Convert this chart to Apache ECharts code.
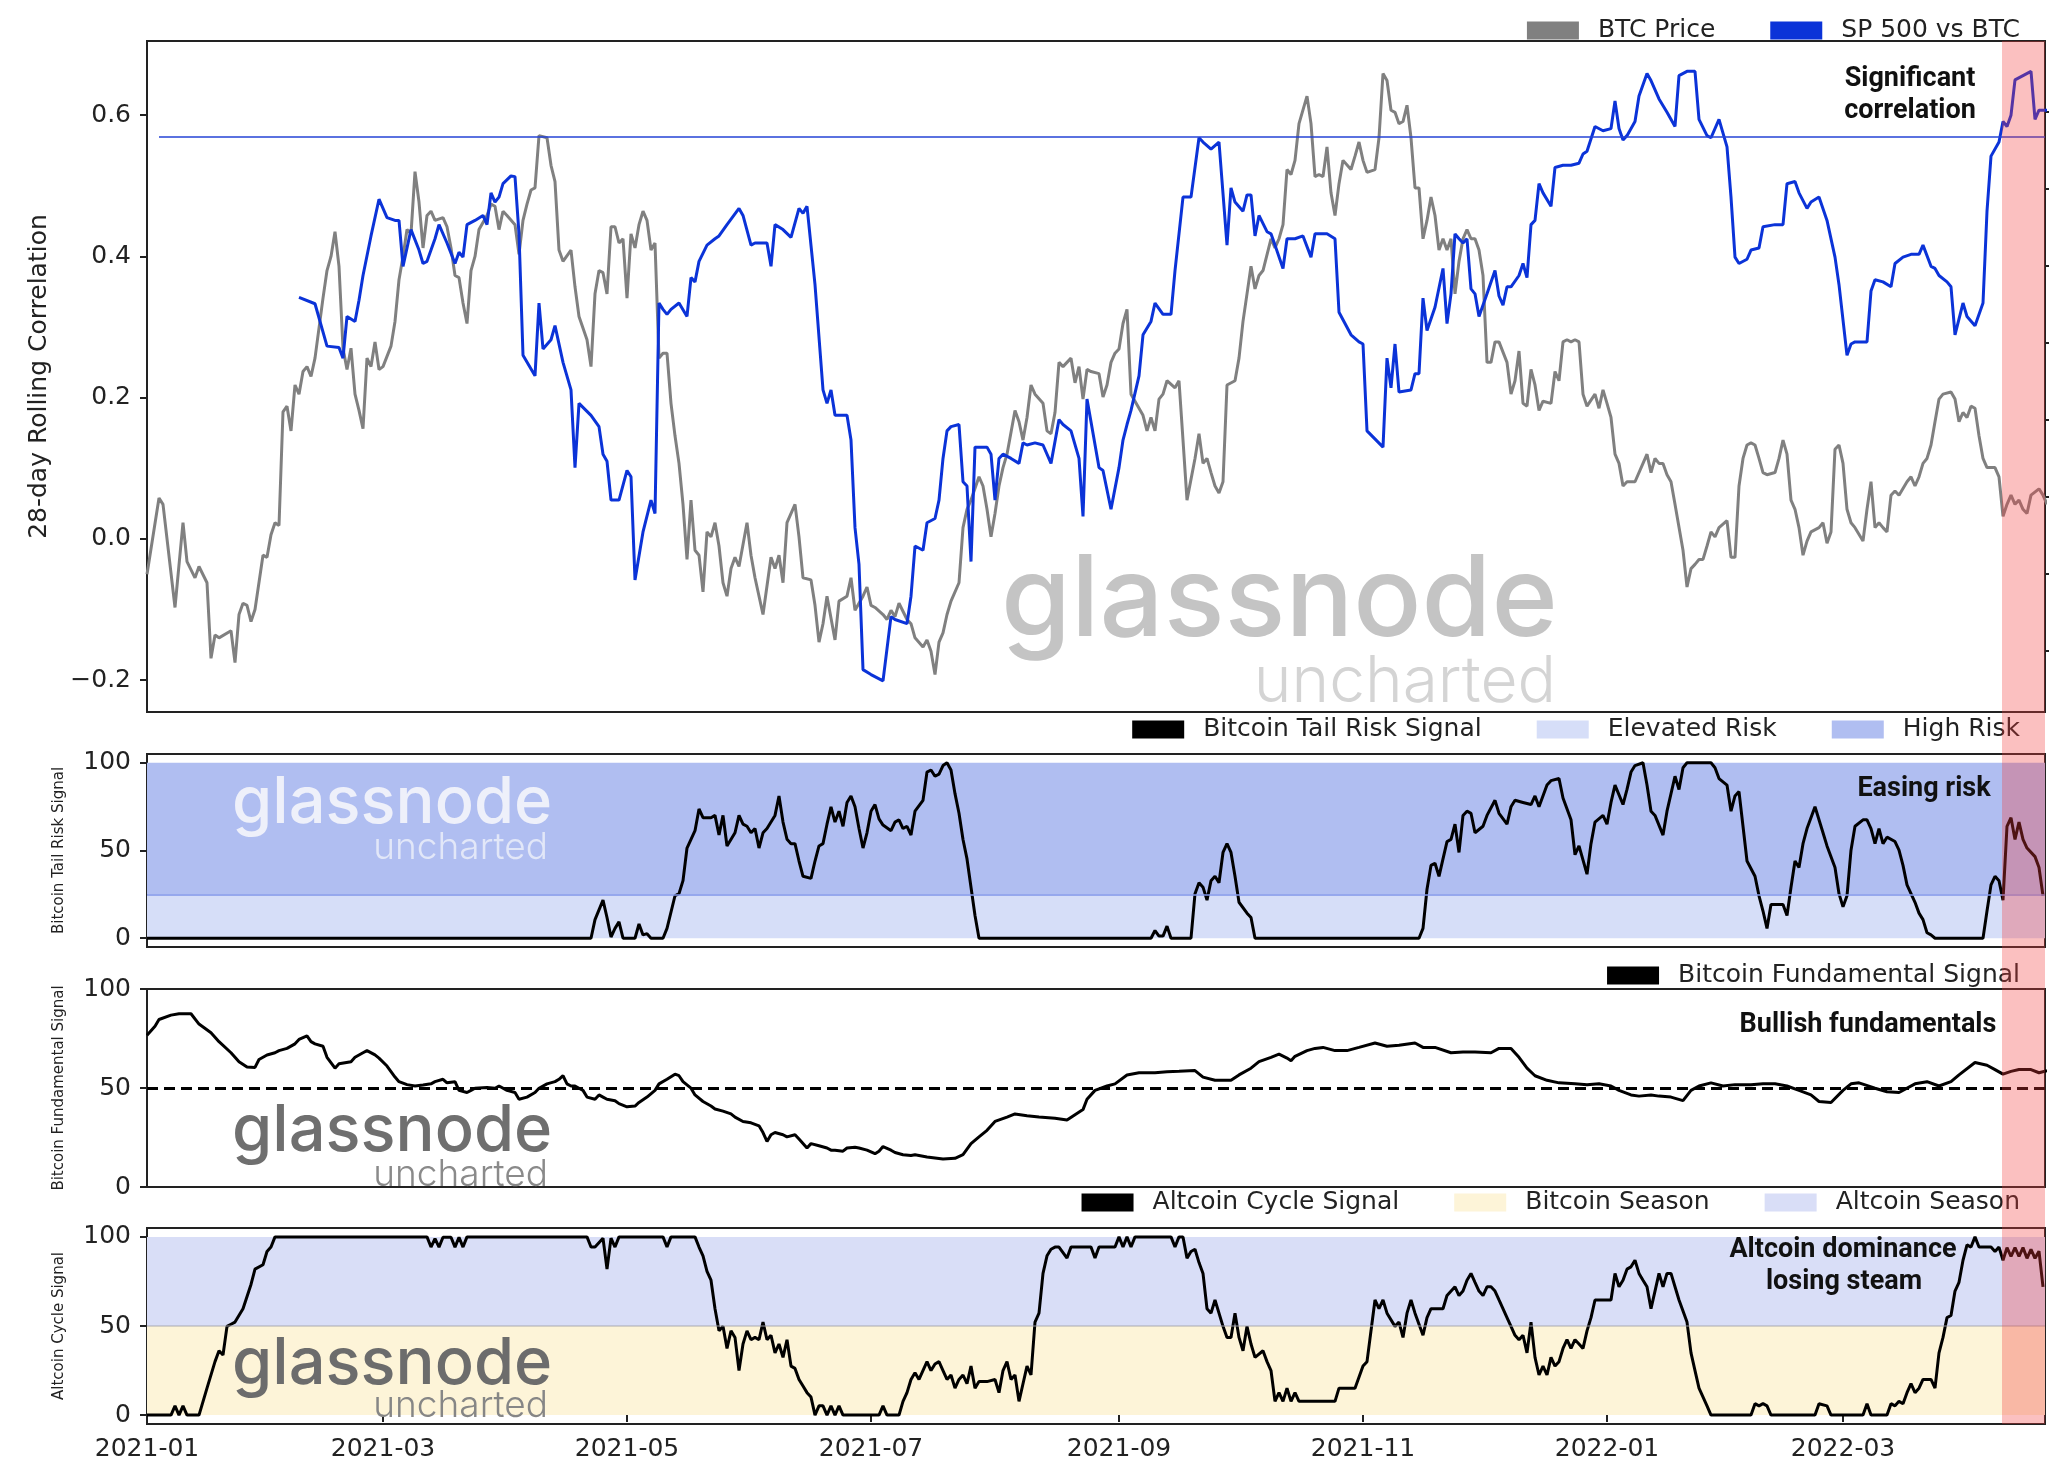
<!DOCTYPE html>
<html>
<head>
<meta charset="utf-8">
<title>Bitcoin signals</title>
<script src="https://cdn.jsdelivr.net/npm/echarts@6.0.0/dist/echarts.min.js"></script>
<style>
  html, body { margin: 0; padding: 0; background: #fff; }
  #chart { width: 2049px; height: 1468px; }
</style>
</head>
<body>
<div id="chart"></div>
<script>
// every series is [day, value], day = days since 2021-01-01
const START = Date.UTC(2021, 0, 1);
const DAY = 86400000;
const LAST_DAY = 474.5;
const PINK_FROM_DAY = 463.75;

const monthTicks = ['2021-01', '2021-03', '2021-05', '2021-07', '2021-09', '2021-11', '2022-01', '2022-03'];
const corrTicks = [-0.2, 0, 0.2, 0.4, 0.6];
const signalTicks = [0, 50, 100];
const priceTicks = [0, 1, 2, 3, 4, 5, 6, 7];
const corrThreshold = 0.57;
const riskLevels = [0, 25, 100];
const seasonLevels = [0, 50, 100];
const neutralFundamental = 50;

const btcPriceCorr = [[0,-.05],[3,.058],[4,.049],[7,-.097],[9,.023],[10,-.032],[12,-.055],[13,-.039],[15,-.062],[16,-.169],[17,-.136],[18,-.14],[21,-.13],[22,-.175],[23,-.107],[24,-.091],[25,-.094],[26,-.117],[27,-.1],[29,-.023],[30,-.026],[31,.006],[32,.023],[33,.019],[34,.18],[35,.188],[36,.153],[37,.218],[38,.205],[39,.237],[40,.244],[41,.23],[42,.256],[44,.341],[45,.38],[46,.4],[47,.435],[48,.386],[49,.27],[50,.24],[51,.27],[52,.205],[53,.182],[54,.156],[55,.256],[56,.244],[57,.279],[58,.24],[59,.244],[61,.273],[62,.308],[63,.367],[64,.4],[65,.438],[66,.432],[67,.52],[68,.477],[69,.412],[70,.458],[71,.464],[72,.451],[74,.455],[75,.442],[76,.412],[77,.373],[78,.37],[79,.334],[80,.305],[81,.38],[82,.4],[83,.438],[85,.458],[86,.474],[87,.471],[88,.438],[89,.464],[90,.458],[92,.445],[93,.403],[94,.451],[95,.474],[96,.494],[97,.497],[98,.571],[100,.568],[101,.529],[102,.506],[103,.409],[104,.393],[106,.409],[107,.357],[108,.315],[110,.282],[111,.244],[112,.347],[113,.38],[114,.377],[115,.347],[116,.442],[117,.442],[118,.419],[119,.425],[120,.341],[121,.432],[122,.412],[123,.445],[124,.464],[125,.451],[126,.409],[127,.419],[128,.256],[129,.263],[130,.263],[131,.192],[132,.146],[133,.107],[134,.049],[135,-.029],[136,.055],[137,-.016],[138,-.023],[139,-.075],[140,.01],[141,.003],[142,.023],[143,-.01],[144,-.062],[145,-.081],[146,-.042],[147,-.026],[148,-.039],[150,.023],[151,-.023],[152,-.055],[154,-.107],[156,-.026],[157,-.042],[158,-.023],[159,-.062],[160,.023],[162,.049],[163,.003],[164,-.055],[166,-.058],[167,-.094],[168,-.146],[169,-.12],[170,-.081],[172,-.143],[173,-.088],[175,-.081],[176,-.055],[177,-.101],[179,-.081],[180,-.068],[181,-.094],[182,-.097],[184,-.107],[185,-.114],[186,-.101],[187,-.11],[188,-.091],[190,-.114],[191,-.12],[192,-.14],[194,-.153],[195,-.143],[196,-.159],[197,-.192],[198,-.146],[199,-.133],[200,-.107],[201,-.088],[203,-.062],[204,.016],[205,.042],[206,.055],[208,.088],[209,.075],[210,.042],[211,.003],[212,.036],[213,.075],[214,.101],[215,.12],[217,.182],[218,.166],[219,.14],[220,.172],[221,.218],[222,.205],[224,.192],[225,.153],[226,.149],[227,.179],[228,.25],[229,.244],[230,.25],[231,.256],[232,.221],[233,.244],[234,.198],[235,.24],[236,.237],[238,.234],[239,.201],[240,.218],[241,.25],[242,.263],[243,.269],[244,.305],[245,.325],[246,.205],[248,.185],[249,.175],[250,.153],[251,.172],[252,.153],[253,.198],[254,.205],[255,.224],[257,.214],[258,.224],[259,.14],[260,.055],[262,.114],[263,.149],[264,.107],[265,.114],[266,.094],[267,.075],[268,.065],[269,.081],[270,.218],[272,.224],[273,.256],[274,.308],[275,.347],[276,.386],[277,.354],[278,.373],[279,.38],[281,.425],[282,.412],[283,.425],[284,.445],[285,.523],[286,.516],[287,.536],[288,.588],[290,.627],[291,.588],[292,.513],[293,.516],[294,.513],[295,.555],[296,.49],[297,.458],[298,.503],[299,.536],[301,.523],[302,.542],[303,.562],[304,.536],[305,.519],[307,.523],[308,.568],[309,.659],[310,.649],[311,.607],[312,.604],[313,.588],[314,.591],[315,.614],[316,.568],[317,.497],[318,.497],[319,.425],[320,.451],[321,.484],[322,.458],[323,.409],[324,.425],[325,.409],[326,.425],[327,.347],[328,.393],[329,.425],[330,.438],[331,.425],[332,.425],[333,.409],[334,.373],[335,.25],[336,.25],[337,.279],[338,.279],[340,.25],[341,.205],[342,.224],[343,.266],[344,.192],[345,.188],[346,.24],[347,.218],[348,.182],[349,.195],[351,.192],[352,.237],[353,.224],[354,.279],[355,.282],[356,.279],[357,.282],[358,.279],[359,.205],[360,.188],[362,.205],[363,.185],[364,.211],[365,.192],[366,.172],[367,.12],[368,.107],[369,.075],[370,.081],[372,.081],[374,.107],[375,.12],[376,.094],[377,.114],[378,.107],[379,.107],[380,.091],[381,.081],[382,.049],[384,-.016],[385,-.068],[386,-.042],[387,-.036],[388,-.029],[389,-.029],[390,-.01],[391,.01],[392,.003],[393,.016],[395,.026],[396,-.026],[397,-.026],[398,.075],[399,.114],[400,.133],[401,.136],[402,.133],[403,.114],[404,.094],[405,.091],[407,.094],[408,.114],[409,.14],[410,.12],[411,.055],[412,.042],[413,.016],[414,-.023],[415,-.003],[416,.01],[418,.016],[419,.023],[420,-.006],[421,.01],[422,.127],[423,.133],[424,.107],[425,.042],[426,.023],[427,.016],[429,-.003],[430,.042],[431,.081],[432,.016],[433,.023],[434,.016],[435,.01],[436,.062],[437,.068],[438,.062],[440,.081],[441,.088],[442,.075],[443,.088],[444,.107],[445,.114],[446,.133],[447,.166],[448,.198],[449,.205],[451,.208],[452,.198],[453,.166],[454,.179],[455,.172],[456,.188],[457,.185],[458,.146],[459,.114],[460,.101],[462,.101],[463,.088],[464,.032],[465,.049],[466,.062],[467,.049],[468,.055],[469,.042],[470,.036],[471,.062],[473,.071],[474,.062],[475,.049]];

const spxBtcCorr = [[38,.342],[42,.333],[45,.273],[48,.271],[49,.256],[50,.315],[52,.308],[53,.338],[54,.373],[56,.429],[58,.481],[60,.455],[62,.451],[63,.451],[64,.386],[66,.438],[68,.409],[69,.39],[70,.393],[72,.425],[73,.445],[75,.419],[77,.39],[78,.406],[79,.399],[80,.445],[82,.451],[84,.458],[85,.445],[86,.49],[87,.477],[88,.484],[89,.503],[91,.514],[92,.513],[93,.432],[94,.26],[97,.231],[98,.334],[99,.269],[101,.282],[102,.302],[104,.25],[106,.211],[107,.101],[108,.192],[111,.175],[113,.159],[114,.12],[115,.11],[116,.055],[118,.055],[120,.097],[121,.088],[122,-.058],[124,.01],[126,.055],[127,.036],[128,.334],[129,.325],[130,.318],[131,.325],[133,.334],[135,.315],[136,.37],[137,.364],[138,.393],[140,.416],[142,.425],[143,.429],[145,.445],[148,.468],[149,.458],[151,.416],[152,.419],[155,.419],[156,.386],[157,.445],[159,.438],[161,.427],[163,.468],[164,.461],[165,.471],[167,.36],[169,.211],[170,.192],[171,.211],[172,.175],[175,.175],[176,.14],[177,.016],[178,-.036],[179,-.185],[181,-.192],[184,-.201],[186,-.11],[187,-.114],[190,-.12],[191,-.081],[192,-.01],[194,-.016],[195,.023],[197,.029],[198,.055],[199,.114],[200,.153],[201,.159],[203,.162],[204,.081],[205,.075],[206,-.032],[207,.13],[210,.13],[211,.12],[212,.055],[213,.114],[214,.12],[216,.114],[218,.107],[219,.136],[220,.133],[222,.136],[224,.133],[226,.107],[228,.169],[229,.162],[231,.153],[233,.114],[234,.032],[235,.198],[236,.166],[238,.101],[239,.097],[241,.042],[243,.101],[244,.14],[245,.162],[246,.182],[248,.231],[249,.289],[251,.308],[252,.334],[254,.318],[256,.318],[257,.38],[259,.484],[261,.484],[263,.568],[264,.562],[266,.552],[268,.562],[270,.416],[271,.497],[272,.477],[274,.464],[275,.487],[276,.487],[277,.429],[278,.458],[280,.435],[281,.432],[282,.416],[284,.383],[285,.425],[287,.425],[289,.429],[291,.399],[292,.432],[295,.432],[297,.425],[298,.321],[301,.289],[303,.279],[304,.276],[305,.153],[309,.13],[310,.256],[311,.214],[312,.276],[313,.208],[316,.211],[317,.234],[318,.234],[319,.341],[320,.295],[322,.328],[324,.383],[325,.305],[326,.347],[327,.432],[328,.425],[329,.419],[330,.425],[331,.354],[332,.347],[333,.315],[335,.347],[337,.38],[338,.344],[339,.331],[340,.357],[341,.357],[343,.373],[344,.39],[345,.37],[346,.445],[347,.451],[348,.503],[349,.49],[351,.471],[352,.526],[354,.529],[356,.529],[358,.532],[359,.545],[360,.549],[362,.584],[364,.578],[366,.581],[367,.62],[368,.581],[369,.565],[370,.571],[372,.591],[373,.627],[375,.659],[376,.649],[378,.623],[380,.604],[382,.584],[383,.656],[385,.662],[387,.662],[388,.594],[390,.571],[391,.568],[393,.594],[395,.555],[396,.484],[397,.399],[398,.39],[400,.396],[401,.409],[403,.412],[404,.442],[407,.445],[409,.445],[410,.503],[412,.506],[413,.49],[415,.468],[416,.477],[418,.484],[420,.451],[422,.399],[423,.36],[425,.26],[426,.276],[427,.279],[430,.279],[431,.351],[432,.367],[434,.364],[436,.357],[437,.39],[439,.399],[441,.403],[443,.403],[444,.416],[446,.386],[447,.383],[448,.373],[450,.364],[451,.357],[452,.289],[454,.334],[455,.315],[457,.302],[459,.334],[460,.464],[461,.542],[463,.562],[464,.591],[465,.584],[466,.6],[467,.65],[469,.656],[471,.662],[472,.594],[473,.607],[475,.607]];

const tailRisk = [[0,0],[111,0],[112,10.6],[114,21.7],[115,11.8],[116,0.7],[117,5.6],[118,9.3],[119,0],[122,0],[123,8.1],[124,1.9],[125,2.6],[126,0],[129,0],[130,5.6],[132,24.2],[133,25.4],[134,32.8],[135,51.4],[137,61.3],[138,73.7],[139,68.7],[140,68.7],[141,68.7],[142,70],[143,58.8],[144,70],[145,52.6],[147,60.1],[148,70],[149,65],[150,63.8],[151,60.1],[152,62.5],[153,51.4],[154,60.1],[155,62.5],[157,70],[158,81.1],[159,66.2],[160,56.4],[161,53.9],[162,53.9],[163,44],[164,35.3],[166,34.1],[167,44],[168,52.6],[169,53.9],[170,65],[171,74.9],[172,66.2],[173,72.4],[174,63.8],[175,77.4],[176,81.1],[177,74.9],[178,62.5],[179,51.4],[180,60.1],[181,72.4],[182,76.2],[183,68],[184,64.5],[186,61.3],[187,66.2],[188,67.5],[189,62.5],[190,63.8],[191,58.8],[192,72.4],[194,78.6],[195,94.7],[196,95.9],[197,92.3],[198,93.5],[199,98.4],[200,100],[201,95.9],[202,82.4],[203,71.2],[204,56.3],[205,45.2],[207,13],[208,0],[251,0],[252,4.4],[253,1.2],[254,1.2],[255,6.9],[256,0],[261,0],[262,25.4],[263,31.6],[264,29.1],[265,21.7],[266,32.8],[267,35.3],[268,31.6],[269,48.9],[270,53.9],[271,48.9],[272,35.3],[273,20.5],[275,14.3],[276,11.8],[277,0],[318,0],[319,5.6],[320,27.9],[321,41.5],[322,42.7],[323,35.3],[324,45.2],[325,55.1],[326,56.3],[327,65],[328,48.9],[329,70],[330,72.4],[331,71.2],[332,60.1],[334,63.8],[335,70],[337,78.6],[338,71.2],[340,65],[341,74.9],[342,78.6],[344,77.4],[346,76.2],[347,81.1],[348,74.9],[350,87.3],[351,89.8],[353,91],[354,79.9],[356,67.5],[357,47.6],[358,52.6],[360,36.5],[361,53.9],[362,66.2],[364,70],[365,65],[366,77.4],[367,87.3],[369,76.2],[370,84.8],[371,94.7],[372,98.4],[374,100],[375,87.3],[376,72.4],[377,70],[379,58.8],[380,72.4],[382,92.3],[383,84.8],[384,97.2],[385,100],[391,100],[392,97.2],[393,91],[395,87.3],[396,72.4],[397,81.1],[398,83.6],[399,63.8],[400,44],[402,35.3],[403,24.2],[404,15.5],[405,5.6],[406,19.2],[409,19.2],[410,13],[411,29.1],[412,44],[413,40.3],[414,53.9],[415,62.5],[417,74.9],[418,67.5],[419,60.1],[420,52.6],[422,40.3],[423,25.4],[424,17.9],[425,24.2],[426,50.2],[427,63.8],[429,67.5],[430,67.5],[431,62.5],[432,53.9],[433,62.5],[434,53.9],[435,57.6],[437,55.1],[438,50.2],[439,41.5],[440,30.4],[442,20.5],[443,14.3],[444,10.6],[445,3.1],[446,1.9],[447,0],[459,0],[460,15.5],[461,30.4],[462,35.3],[463,32.8],[464,21.7],[465,63.8],[466,68.7],[467,56.3],[468,66.2],[469,56.3],[470,51.4],[472,46.5],[473,40.3],[474,24.2]];

const fundamental = [[0,76.7],[2,81.2],[3,84.6],[6,86.8],[8,87.5],[11,87.5],[13,82.3],[16,77.9],[18,73.4],[21,67.8],[23,63.3],[25,60.6],[27,60.4],[28,64.4],[30,66.7],[32,67.8],[33,68.9],[35,70],[37,72.3],[38,74.5],[40,76.3],[41,73.4],[42,72.3],[44,71.1],[45,65.5],[47,60],[48,62.2],[51,63.3],[52,65.5],[54,67.8],[55,68.9],[57,66.7],[58,65.1],[60,61.1],[62,55.5],[63,53.2],[65,51.7],[67,51],[69,51.5],[71,52.1],[72,53.2],[74,54.4],[75,52.6],[77,53.2],[78,48.8],[80,47.7],[81,48.8],[82,49.9],[85,50.3],[87,49.9],[88,51],[90,48.8],[92,47.7],[93,44.3],[95,45.4],[97,47.7],[98,49.9],[100,52.1],[102,53.2],[103,54.4],[104,56.2],[105,52.1],[106,51],[107,51],[108,49.9],[109,48.8],[110,45.4],[112,44.3],[113,46.5],[114,45.4],[115,44.3],[117,43.6],[118,42.1],[120,40.5],[122,40.9],[123,42.7],[125,45.4],[127,48.8],[128,52.1],[130,54.4],[132,57],[133,56.2],[134,53.2],[136,49.9],[137,46.5],[139,43.2],[141,40.9],[142,39.4],[144,38.3],[146,36.9],[147,35.3],[149,33.1],[151,32.4],[153,30.9],[154,27.5],[155,23],[156,26.4],[157,27.5],[159,26.4],[160,25.3],[162,26.4],[163,24.2],[165,19.7],[166,21.9],[168,20.8],[170,19.7],[171,18.6],[172,18.6],[174,18.1],[175,19.7],[177,20.1],[178,19.7],[180,18.6],[182,16.8],[183,18.1],[184,20.4],[186,18.6],[187,17.4],[189,16.3],[191,15.9],[192,16.3],[195,15.2],[199,14.1],[202,14.5],[204,16.3],[206,21.9],[208,25.3],[210,28.6],[212,33.1],[215,35.3],[217,36.9],[220,36],[223,35.3],[227,34.7],[230,33.8],[232,36.5],[234,39.1],[235,44.3],[237,48.8],[240,51],[242,52.1],[245,56.6],[248,57.7],[252,57.7],[255,58.2],[258,58.4],[262,58.8],[264,55.5],[267,53.9],[271,53.9],[273,56.6],[276,60],[278,63.3],[281,65.5],[283,67.1],[285,65.1],[286,63.8],[287,66],[290,68.9],[292,70],[294,70.5],[297,68.9],[300,68.9],[303,70.5],[307,72.7],[310,71.1],[313,71.6],[317,72.7],[319,70.5],[322,70.5],[326,67.8],[329,68.2],[332,68.2],[336,67.8],[338,70],[341,70],[343,65.5],[345,60],[347,56.2],[350,53.9],[353,52.6],[357,52.1],[360,51.7],[363,52.1],[366,51],[368,48.8],[371,46.5],[373,45.9],[376,46.5],[378,45.9],[381,45.4],[384,43.6],[386,48.8],[388,51],[391,52.6],[394,51],[397,51.7],[401,51.7],[404,52.1],[407,52.1],[410,51],[413,48.8],[416,46.5],[418,43.2],[421,42.7],[424,48.8],[426,52.1],[428,52.6],[432,49.9],[435,48.1],[438,47.7],[442,52.1],[445,53.2],[448,51],[451,53.2],[453,56.6],[457,62.9],[460,61.5],[462,59.3],[464,57],[466,58.4],[468,59.3],[471,59.3],[473,57.7],[475,58.8]];

const altcoinCycle = [[0,0],[6,0],[7,5.2],[8,0],[9,5.2],[10,0],[13,0],[15,15.1],[17,30],[18,36.1],[19,33.7],[20,49.8],[21,51],[22,52.2],[24,59.7],[26,73.3],[27,81.9],[29,84.4],[30,91.8],[31,94.3],[32,100],[70,100],[71,94.3],[72,99],[73,94.3],[74,99.8],[76,99.8],[77,94.3],[78,99.8],[79,94.3],[80,100],[110,100],[111,94.3],[112,94.3],[114,99.3],[115,81.9],[116,99.3],[117,94.3],[118,100],[129,100],[130,94.3],[131,100],[137,100],[138,94.3],[139,89.4],[140,80.7],[141,75.7],[142,59.7],[143,47.3],[144,49.8],[145,37.4],[146,47.3],[147,43.6],[148,25],[149,39.9],[150,47.3],[151,42.3],[152,43.6],[153,42.3],[154,52.2],[155,42.3],[156,44.8],[157,34.9],[158,39.9],[159,32.4],[160,42.3],[161,27.5],[162,26.2],[163,20],[164,16.3],[165,12.6],[166,10.1],[167,0],[168,5.2],[169,5.2],[170,0],[171,5.2],[172,0],[173,5.2],[174,0],[183,0],[184,5.2],[185,0],[188,0],[189,7.7],[190,12.6],[191,20],[192,23.8],[193,20],[195,30],[196,25],[197,28.7],[198,30],[199,25],[200,20],[201,22.5],[202,15.1],[203,20],[204,22.5],[205,17.6],[206,27.5],[207,15.1],[208,18.8],[210,18.8],[212,20],[213,12.6],[214,25],[215,30],[216,20],[217,22.5],[218,7.7],[219,17.6],[220,27.5],[221,22.5],[222,52.2],[223,57.2],[224,79.5],[225,89.4],[226,93.1],[227,94.3],[228,94.3],[230,88.1],[231,94.3],[236,94.3],[237,88.1],[238,94.3],[242,94.3],[243,100],[244,94.3],[245,100],[246,94.3],[247,100],[256,100],[257,94.3],[258,100],[259,100],[260,88.1],[261,91.8],[262,93.1],[263,85.6],[264,79.5],[265,59.7],[266,57.2],[267,64.6],[268,57.2],[269,49.8],[270,43.6],[271,43.6],[272,57.2],[273,43.6],[274,36.1],[275,49.8],[276,39.9],[277,32.4],[279,36.1],[280,30],[281,25],[282,7.7],[283,12.6],[284,7.7],[285,15.1],[286,7.7],[287,12.6],[288,7.7],[297,7.7],[298,15.1],[302,15.1],[304,27.5],[305,30],[306,47.3],[307,64.6],[308,59.7],[309,64.6],[310,57.2],[312,49.8],[313,52.2],[314,43.6],[315,57.2],[316,64.6],[317,57.2],[319,44.8],[320,54.7],[321,59.7],[324,59.7],[325,67.1],[327,72],[328,67.1],[329,69.6],[330,75.7],[331,79.5],[332,74.5],[333,69.6],[334,67.1],[335,72],[336,72],[337,69.6],[338,64.6],[340,54.7],[341,49.8],[342,44.8],[343,42.3],[344,44.8],[345,34.9],[346,52.2],[347,32.4],[348,22.5],[349,27.5],[350,22.5],[351,32.4],[352,27.5],[353,30],[354,37.4],[355,42.3],[356,37.4],[357,42.3],[358,39.9],[359,37.4],[360,47.3],[361,54.7],[362,64.6],[366,64.6],[367,79.5],[368,72],[369,75.7],[370,81.9],[371,83.2],[372,86.9],[373,79.5],[374,75.7],[375,72],[376,59.7],[377,69.6],[378,79.5],[379,72],[380,79.5],[381,79.5],[382,72],[383,64.6],[385,52.2],[386,34.9],[387,25],[388,15.1],[390,5.2],[391,0],[401,0],[402,6.4],[403,5.2],[404,6.4],[405,5.2],[406,0],[417,0],[418,6.4],[420,5.2],[421,0],[429,0],[430,6.4],[431,0],[435,0],[436,6.4],[437,5.2],[438,7.7],[439,6.4],[440,12.6],[441,17.6],[442,12.6],[443,15.1],[444,20],[446,20],[447,15.1],[448,34.9],[449,43.6],[450,54.7],[451,55.9],[452,69.6],[453,74.5],[454,86.9],[455,95.5],[456,94.3],[457,100],[458,94.3],[461,94.3],[462,91.8],[463,94.3],[464,86.9],[465,94],[466,89],[467,94],[468,89],[469,94],[470,88],[471,93],[472,88],[473,92],[474,72]];

// ---------------------------------------------------------------

const toTime = d => START + d * DAY;
const toPoints = arr => arr.map(p => [toTime(p[0]), p[1]]);
const monthTime = m => Date.UTC(+m.slice(0, 4), +m.slice(5, 7) - 1, 1);
const fmtMonth = v => {
    const d = new Date(v);
    return d.getUTCFullYear() + '-' + String(d.getUTCMonth() + 1).padStart(2, '0');
};

const INK = '#222';
const AXIS_FONT = 'DejaVu Sans';
const LINE_W = 3;
const X_MIN = START;
const X_MAX = toTime(LAST_DAY);

const gridBox = [
    { top: 41, height: 671 },
    { top: 754, height: 193 },
    { top: 989, height: 198 },
    { top: 1228, height: 196 }
];

// x axes are plain value axes over timestamps, so the tick dates can be set directly
function xAxisFor(i) {
    const last = i === 3;
    const ticks = monthTicks.map(monthTime);
    return {
        type: 'value', gridIndex: i, min: X_MIN, max: X_MAX, scale: true,
        axisLine: { show: false },
        splitLine: { show: false },
        axisTick: { show: last, length: 7, lineStyle: { color: INK, width: 2 }, customValues: ticks },
        axisLabel: {
            show: last, customValues: ticks, formatter: fmtMonth,
            fontSize: 25, fontFamily: AXIS_FONT, color: INK, margin: 13
        }
    };
}

function signalAxis(grid, name, min, max) {
    return {
        type: 'value', gridIndex: grid, min: min, max: max,
        axisLine: { show: false },
        splitLine: { show: false },
        axisTick: { length: 7, lineStyle: { color: INK, width: 2 }, customValues: signalTicks },
        axisLabel: { customValues: signalTicks, fontSize: 25, fontFamily: AXIS_FONT, color: INK, margin: 16 },
        name: name, nameLocation: 'middle', nameGap: 80,
        nameTextStyle: { fontSize: 15, fontFamily: AXIS_FONT, color: INK }
    };
}

function bandSeries(name, color, axis, from, to, extra) {
    return Object.assign({
        name: name, type: 'line', xAxisIndex: axis, yAxisIndex: axis + 1,
        data: [], color: color, z: 1, silent: true,
        markArea: {
            silent: true,
            itemStyle: { color: color, opacity: 1 },
            data: [[{ yAxis: from }, { yAxis: to }]]
        }
    }, extra || {});
}

function signalSeries(name, data, axis, extra) {
    return Object.assign({
        name: name, type: 'line', xAxisIndex: axis, yAxisIndex: axis + 1,
        data: toPoints(data), showSymbol: false, symbol: 'none', z: 3,
        color: '#000', lineStyle: { color: '#000', width: LINE_W }
    }, extra || {});
}

const legendBase = {
    right: 29, padding: 0, icon: 'rect', itemWidth: 52, itemHeight: 18, itemGap: 55,
    selectedMode: false,
    textStyle: { fontSize: 25, fontFamily: AXIS_FONT, color: INK, padding: [0, 0, 0, 14] }
};

function watermark(id, x, yMid, big, small, colBig, colSmall, smallPos) {
    return [
        { type: 'text', id: id + 'a', x: x, y: yMid, z: 2, silent: true,
          style: { text: 'glassnode', fontFamily: 'Inter', fontWeight: 500, fontSize: big,
                   fill: colBig, align: 'left', verticalAlign: 'middle' } },
        { type: 'text', id: id + 'b', x: smallPos[0], y: smallPos[1], z: 2, silent: true,
          style: { text: 'uncharted', fontFamily: 'Inter', fontWeight: 300, fontSize: small,
                   fill: colSmall, align: 'right', verticalAlign: 'middle' } }
    ];
}

function note(id, text, x, y) {
    return { type: 'text', id: id, x: x, y: y, z: 20, silent: true,
             style: { text: text, fontFamily: 'Roboto', fontWeight: 700, fontSize: 27,
                      fill: '#111', align: 'center', verticalAlign: 'middle' } };
}

const option = {
    animation: false,
    backgroundColor: '#fff',
    grid: gridBox.map(g => ({
        left: 147, right: 4, top: g.top, height: g.height,
        show: true, borderColor: INK, borderWidth: 2, backgroundColor: 'transparent'
    })),
    xAxis: [0, 1, 2, 3].map(xAxisFor),
    yAxis: [
        {
            type: 'value', gridIndex: 0, min: -0.245, max: 0.705,
            axisLine: { show: false }, splitLine: { show: false },
            axisTick: { length: 7, lineStyle: { color: INK, width: 2 }, customValues: corrTicks },
            axisLabel: {
                customValues: corrTicks, fontSize: 25, fontFamily: AXIS_FONT, color: INK, margin: 16,
                formatter: v => (v < 0 ? '\u2212' : '') + Math.abs(v).toFixed(1)
            },
            name: '28-day Rolling Correlation', nameLocation: 'middle', nameGap: 95,
            nameTextStyle: { fontSize: 25, fontFamily: AXIS_FONT, color: INK }
        },
        {
            // secondary price axis, its labels fall outside the picture
            type: 'value', gridIndex: 0, position: 'right', min: -0.791, max: 7.912,
            axisLine: { show: false }, splitLine: { show: false },
            axisTick: { length: 7, lineStyle: { color: INK, width: 2 }, customValues: priceTicks },
            axisLabel: { show: false }
        },
        signalAxis(1, 'Bitcoin Tail Risk Signal', -5, 105),
        signalAxis(2, 'Bitcoin Fundamental Signal', 0, 100),
        signalAxis(3, 'Altcoin Cycle Signal', -5, 105)
    ],
    legend: [
        Object.assign({}, legendBase, { top: 18, data: ['BTC Price', 'SP 500 vs BTC'] }),
        Object.assign({}, legendBase, { top: 717, data: ['Bitcoin Tail Risk Signal', 'Elevated Risk', 'High Risk'] }),
        Object.assign({}, legendBase, { top: 963, data: ['Bitcoin Fundamental Signal'] }),
        Object.assign({}, legendBase, { top: 1190, data: ['Altcoin Cycle Signal', 'Bitcoin Season', 'Altcoin Season'] })
    ],
    series: [
        {
            name: 'BTC Price', type: 'line', xAxisIndex: 0, yAxisIndex: 0,
            data: toPoints(btcPriceCorr), symbol: 'none', z: 3,
            color: '#808080', lineStyle: { color: '#808080', width: LINE_W }
        },
        {
            name: 'SP 500 vs BTC', type: 'line', xAxisIndex: 0, yAxisIndex: 0,
            data: toPoints(spxBtcCorr), symbol: 'none', z: 4,
            color: '#0b33d8', lineStyle: { color: '#0b33d8', width: LINE_W },
            markLine: {
                silent: true, symbol: ['none', 'none'], label: { show: false },
                lineStyle: { color: '#2443d6', width: 1.6, type: 'solid' },
                data: [[{ coord: [toTime(3), corrThreshold] }, { coord: [X_MAX, corrThreshold] }]]
            }
        },
        bandSeries('Elevated Risk', '#d6def8', 1, riskLevels[0], riskLevels[1]),
        bandSeries('High Risk', '#b0bef1', 1, riskLevels[1], riskLevels[2], {
            markLine: {
                silent: true, symbol: ['none', 'none'], label: { show: false },
                lineStyle: { color: '#8196ea', width: 1.5, type: 'solid' },
                data: [{ yAxis: riskLevels[1] }]
            }
        }),
        signalSeries('Bitcoin Tail Risk Signal', tailRisk, 1),
        signalSeries('Bitcoin Fundamental Signal', fundamental, 2, {
            markLine: {
                silent: true, symbol: ['none', 'none'], label: { show: false },
                lineStyle: { color: '#000', width: LINE_W, type: [11, 6] },
                data: [{ yAxis: neutralFundamental }]
            }
        }),
        bandSeries('Bitcoin Season', '#fdf4d8', 3, seasonLevels[0], seasonLevels[1]),
        bandSeries('Altcoin Season', '#d9def7', 3, seasonLevels[1], seasonLevels[2], {
            markLine: {
                silent: true, symbol: ['none', 'none'], label: { show: false },
                lineStyle: { color: 'rgba(160,160,170,0.6)', width: 1.5, type: 'solid' },
                data: [{ yAxis: seasonLevels[1] }]
            }
        }),
        signalSeries('Altcoin Cycle Signal', altcoinCycle, 3)
    ],
    graphic: [].concat(
        watermark('wm0', 1001, 602, 113, 64, '#c4c4c4', '#d4d4d4', [1556, 683]),
        watermark('wm1', 232, 803, 65, 37, '#eef0fa', '#e2e7f8', [548, 848]),
        watermark('wm2', 232, 1131, 65, 37, '#6f6f6f', '#8a8a8a', [548, 1175]),
        watermark('wm3', 232, 1364, 65, 37, '#6c6c6c', '#868686', [548, 1406]),
        [
            note('n1', 'Significant', 1910, 79),
            note('n2', 'correlation', 1910, 111),
            note('n3', 'Easing risk', 1924, 789),
            note('n4', 'Bullish fundamentals', 1868, 1025),
            note('n5', 'Altcoin dominance', 1843, 1250),
            note('n6', 'losing steam', 1844, 1282)
        ]
    )
};

const chart = echarts.init(document.getElementById('chart'), null, { renderer: 'canvas' });
chart.setOption(option);

// red window over the most recent days, across all four panels
const px0 = chart.convertToPixel({ xAxisIndex: 0 }, toTime(PINK_FROM_DAY));
const px1 = chart.convertToPixel({ xAxisIndex: 0 }, X_MAX);
const pyTop = chart.convertToPixel({ yAxisIndex: 0 }, 0.705);
const pyBottom = chart.convertToPixel({ yAxisIndex: 4 }, -5);
chart.setOption({
    graphic: [{
        type: 'rect', id: 'recentWindow', z: 50, silent: true,
        shape: { x: px0, y: pyTop, width: px1 - px0, height: pyBottom - pyTop },
        style: { fill: 'rgba(242, 60, 60, 0.32)' }
    }]
});
</script>
</body>
</html>
